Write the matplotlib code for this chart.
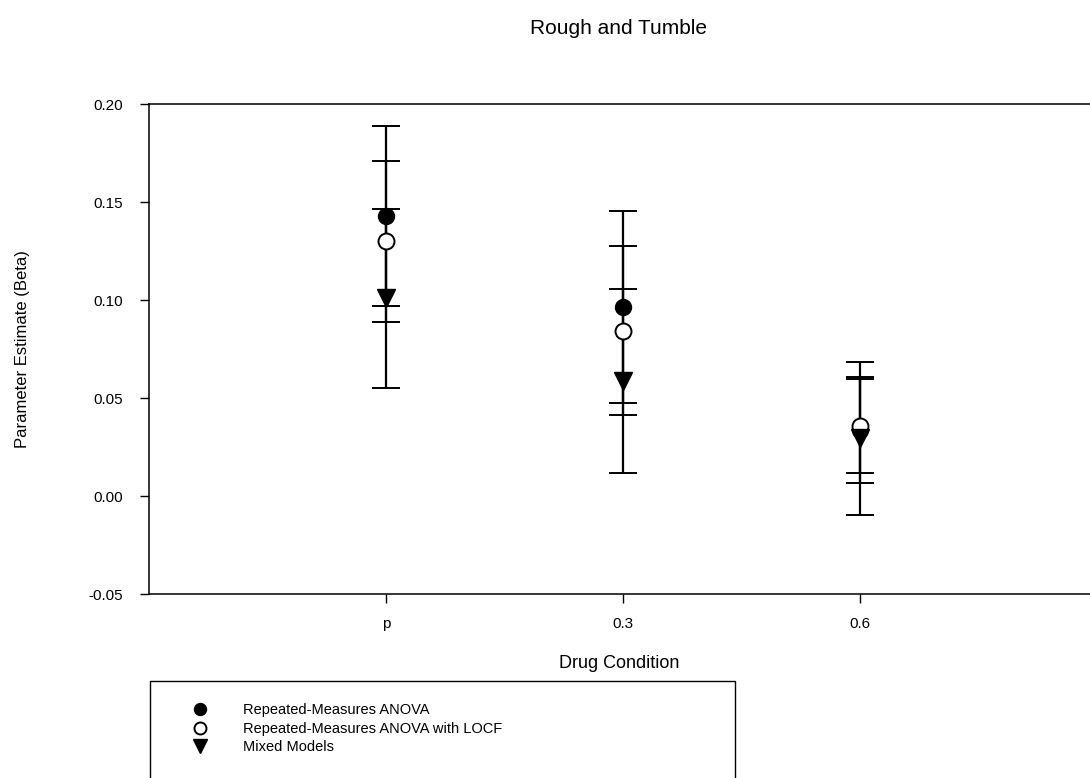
import numpy as np
import matplotlib.pyplot as plt
from matplotlib.patches import Rectangle

plt.rcParams['font.family'] = ['Liberation Sans', 'DejaVu Sans']

conditions = ["p", "0.3", "0.6"]
xpos = [1, 2, 3]

# estimates and error half-widths
anova = [0.143, 0.0963, 0.0335]
anova_err = [0.046, 0.049, 0.027]
locf = [0.130, 0.0843, 0.0356]
locf_err = [0.041, 0.043, 0.024]
mixed = [0.1008, 0.0588, 0.0294]
mixed_err = [0.0457, 0.047, 0.039]

labels = ["Repeated-Measures ANOVA", "Repeated-Measures ANOVA with LOCF", "Mixed Models"]

fig = plt.figure(figsize=(10.9, 7.78), dpi=100)
ax = fig.add_axes([149 / 1090, 184 / 778, 948 / 1090, 490 / 778])

kw = dict(color="black", ecolor="black", elinewidth=1.6, capsize=10, capthick=1.4, linestyle="none")
h1 = ax.errorbar(xpos, anova, yerr=anova_err, marker="o", markersize=11.5, markerfacecolor="black", **kw)
h2 = ax.errorbar(xpos, locf, yerr=locf_err, marker="o", markersize=11.5, markerfacecolor="white",
                 markeredgewidth=1.4, **kw)
h3 = ax.errorbar(xpos, mixed, yerr=mixed_err, marker="v", markersize=12.5, markerfacecolor="black", **kw)

ax.set_xlim(0, 4)
ax.set_ylim(-0.05, 0.20)
ax.set_xticks(xpos)
ax.set_xticklabels(conditions)
ax.set_yticks([-0.05, 0.0, 0.05, 0.10, 0.15, 0.20])
ax.set_yticklabels(["-0.05", "0.00", "0.05", "0.10", "0.15", "0.20"])
ax.tick_params(axis="both", direction="out", length=6.5, width=1, labelsize=11)
ax.tick_params(axis="y", pad=12)
ax.tick_params(axis="x", pad=10)
for s in ["left", "top", "bottom"]:
    ax.spines[s].set_linewidth(1.1)
ax.spines["right"].set_visible(False)

ax.set_ylabel("Parameter Estimate (Beta)", fontsize=12, labelpad=42)
fig.text(619 / 1090, 1 - 663 / 778, "Drug Condition", ha="center", va="center", fontsize=13)
fig.text(619 / 1090, 1 - 28 / 778, "Rough and Tumble", ha="center", va="center", fontsize=15)

handles = [h1[0], h2[0], h3[0]]
fig.legend(handles, labels, loc="upper left", bbox_to_anchor=(178 / 1090, 1 - 696 / 778),
           frameon=False, borderpad=0, handlelength=2, handletextpad=1.95, labelspacing=0.3,
           fontsize=10.5, markerscale=0.75)
fig.add_artist(Rectangle((150 / 1090, -0.1), 585 / 1090, (778 - 681) / 778 + 0.1,
                         transform=fig.transFigure, fill=False, edgecolor="black", linewidth=1))

fig.savefig("out.png", dpi=100)
